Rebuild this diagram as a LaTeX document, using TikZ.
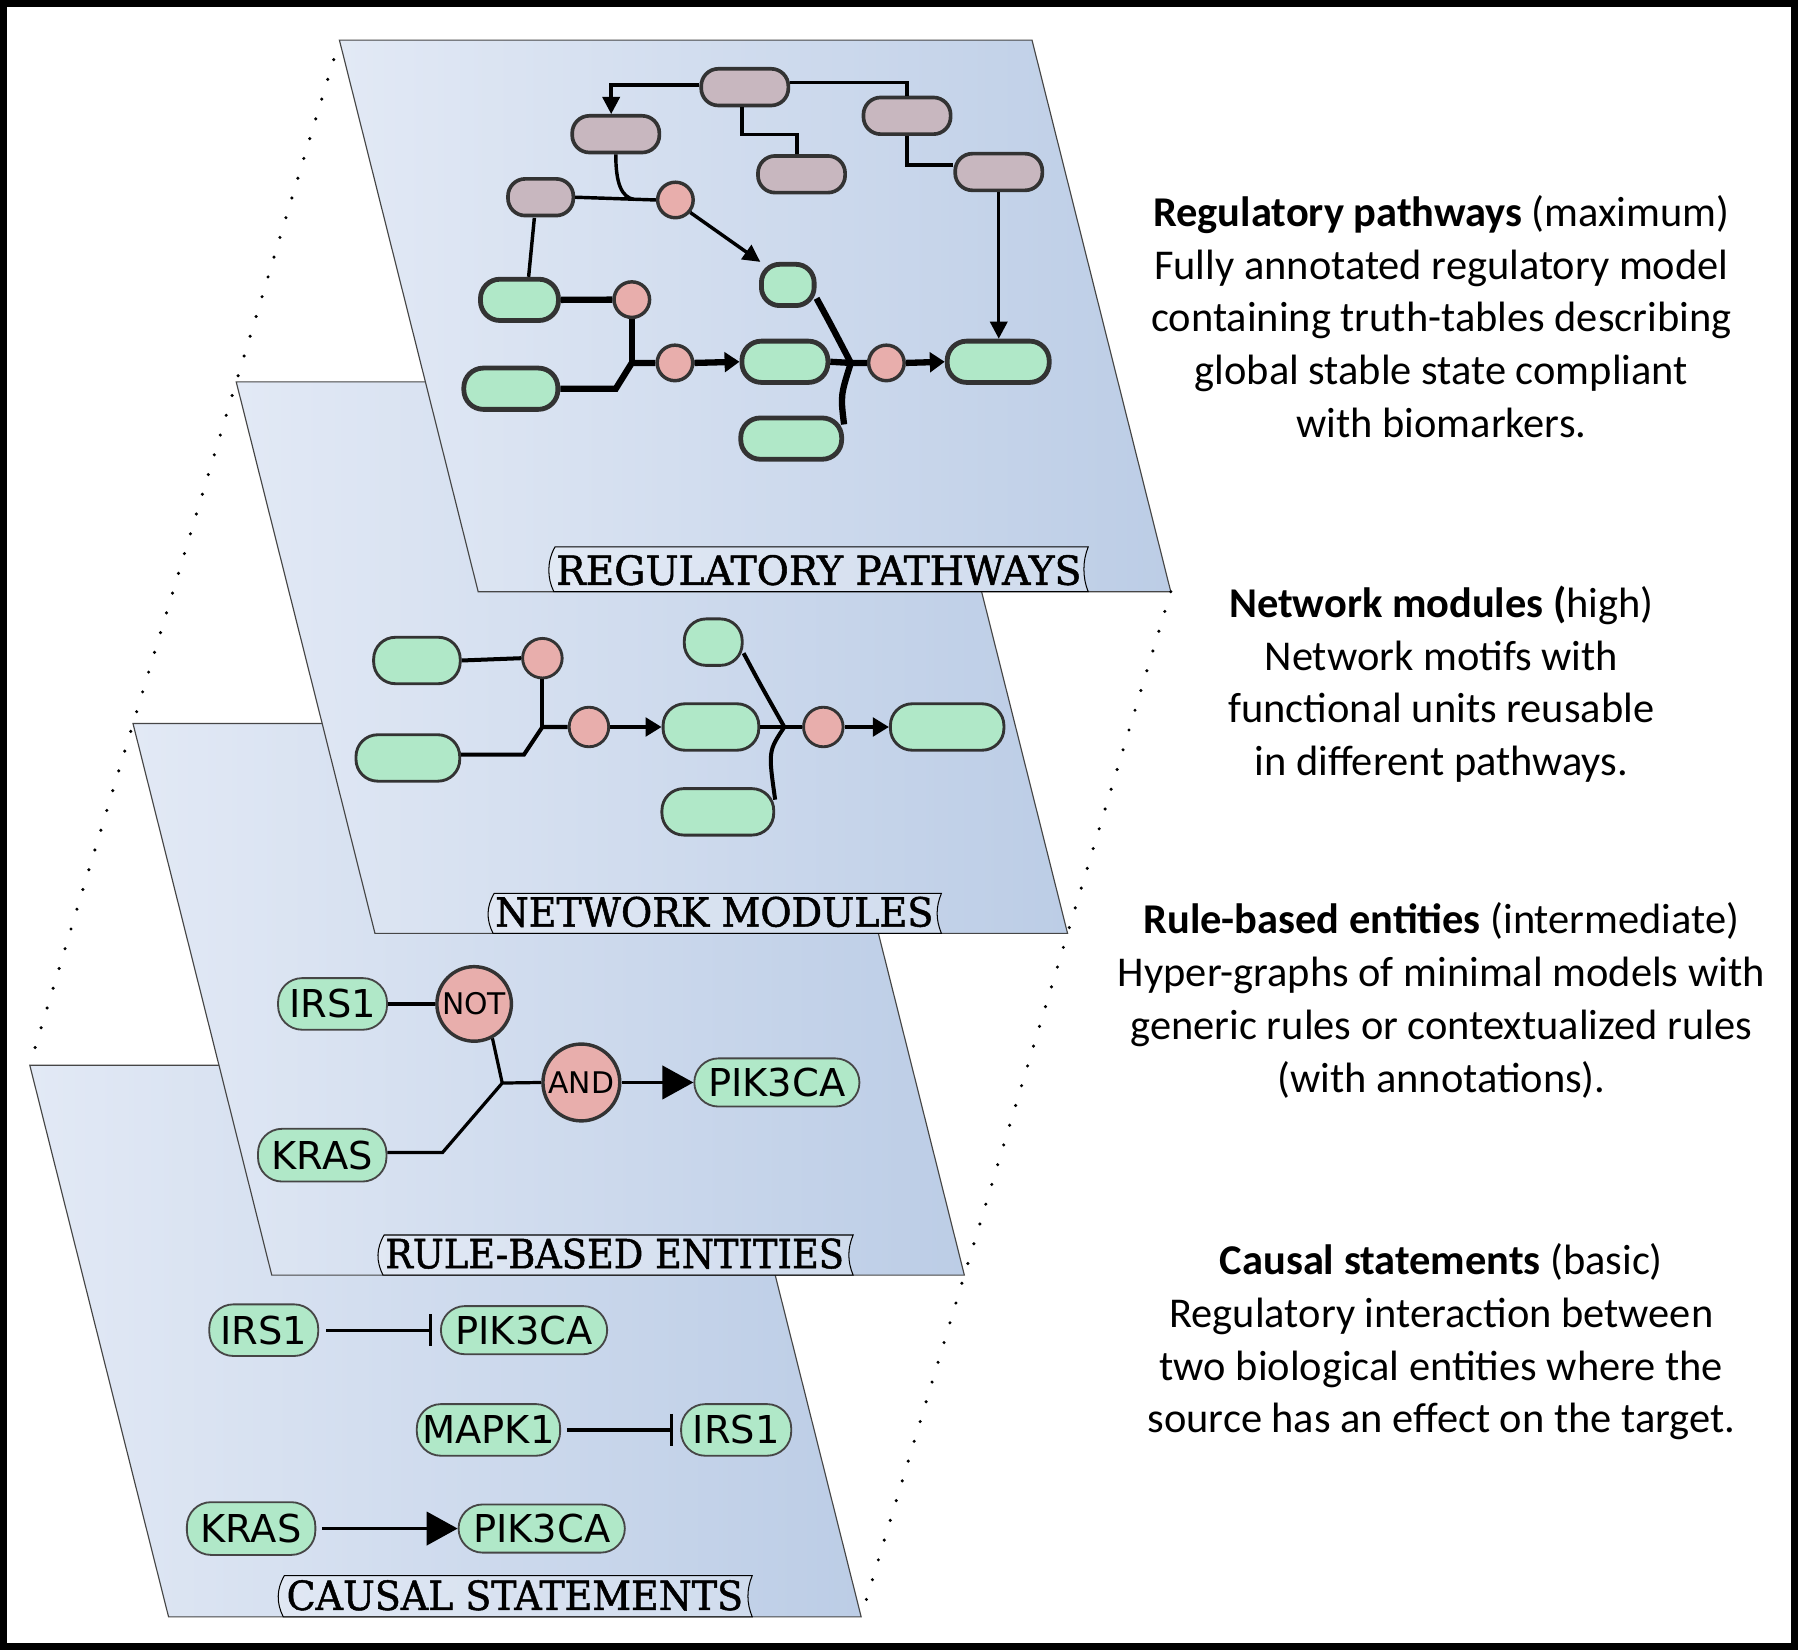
\documentclass[tikz,border=0pt]{standalone}
\usepackage{fontspec}
\setmainfont{Carlito}
\newfontfamily\slabfont[FakeBold=1.2]{DejaVu Serif Condensed}
\newfontfamily\genefont{DejaVu Sans}
\usetikzlibrary{arrows.meta,calc}
\definecolor{layL}{RGB}{226,233,245}
\definecolor{layR}{RGB}{188,205,230}
\definecolor{mauve}{RGB}{200,183,191}
\definecolor{pinkc}{RGB}{232,174,172}
\definecolor{greenc}{RGB}{176,232,200}
\definecolor{nodeline}{RGB}{51,51,51}
\definecolor{edgegray}{RGB}{70,70,70}
\newcommand{\layerat}[2]{\path[layerst] (#1,#2) -- ++(604,0) -- ++(121,481) -- ++(-604,0) -- cycle;}
\newcommand{\labtab}[8]{%
  \draw[tabst] ({#2+5},#4) -- (#3,#4) .. controls ({#3-5},{#4+12}) and ({#3-5},{#5-12}) .. (#3,#5)
     -- ({#2+4},#5) .. controls ({#2-2},{#5-12}) and ({#2-2},{#4+12}) .. ({#2+5},#4) -- cycle;
  \node[anchor=base,inner sep=0pt] (#1) at (#6,{#5-6}) {\resizebox{#7pt}{26pt}{\slabfont #8}};}
\begin{document}
\begin{tikzpicture}[x=1pt,y=-1pt,
  layerst/.style={draw=edgegray,line width=1pt,left color=layL,right color=layR},
  tabst/.style={draw=black,line width=0.9pt,fill=white,fill opacity=0.25},
  mv/.style={draw=nodeline,fill=mauve,line width=3.2pt,rounded corners=15pt,minimum width=76pt,minimum height=32pt,inner sep=0pt},
  gA/.style={draw=nodeline,fill=greenc,line width=4.2pt,rounded corners=17pt,minimum height=36pt,inner sep=0pt},
  pA/.style={draw=nodeline,fill=pinkc,line width=3pt,circle,minimum size=31pt,inner sep=0pt},
  gB/.style={draw=nodeline,fill=greenc,line width=2.5pt,rounded corners=19pt,minimum height=40.5pt,inner sep=0pt},
  pB/.style={draw=nodeline,fill=pinkc,line width=2.5pt,circle,minimum size=34.5pt,inner sep=0pt},
  gene/.style={draw=edgegray,fill=greenc,line width=1.6pt,rounded corners=21pt,minimum height=45pt,inner sep=0pt,
     font=\genefont\fontsize{33.5}{38}\selectfont},
  logic/.style={draw=nodeline,fill=pinkc,line width=3pt,circle,inner sep=0pt,
     font=\genefont\fontsize{26}{30}\selectfont},
  eA/.style={line width=3pt},
  eAt/.style={line width=5.5pt},
  eB/.style={line width=3.5pt},
  eC/.style={line width=2.8pt},
  aA/.style={-{Triangle[length=15pt,width=15pt]}},
  aAt/.style={-{Triangle[length=13pt,width=17pt]}},
  aB/.style={-{Triangle[length=14pt,width=16pt]}},
  aC/.style={-{Triangle[length=27pt,width=29pt]}},
  inh/.style={-{Bar[width=28pt,line width=2.8pt]}},
  desc/.style={anchor=base,inner sep=0pt,font=\fontsize{37}{44}\selectfont},
  dotline/.style={line width=3pt,line cap=round,dash pattern=on 0pt off 18pt}]
\useasboundingbox (0,0) rectangle (1568,1439);
\fill[white] (0,0) rectangle (1568,1439);

% ---------------- layer 4: causal statements
\layerat{26}{929}
\labtab{lab4}{243}{656}{1374}{1410}{449}{398}{CAUSAL STATEMENTS}
\node[gene,minimum width=95pt] (irsA) at (230,1160) {IRS1};
\node[gene,minimum width=145pt,minimum height=42pt] (pikA) at (457,1160) {PIK3CA};
\node[gene,minimum width=125pt] (mapk) at (426,1247) {MAPK1};
\node[gene,minimum width=96pt] (irsB) at (642,1247) {IRS1};
\node[gene,minimum width=112pt,minimum height=46pt] (krasA) at (219,1333) {KRAS};
\node[gene,minimum width=145pt,minimum height=42pt] (pikB) at (472.4,1333) {PIK3CA};
\draw[eC,inh,shorten <=6pt,shorten >=7pt] (irsA.east) -- (pikA.west);
\draw[eC,inh,shorten <=5pt,shorten >=6pt] (mapk.east) -- (irsB.west);
\draw[eC,aC,shorten <=5pt] (krasA.east) -- (pikB.west);

% ---------------- layer 3: rule-based entities
\layerat{116}{631}
\labtab{lab3}{330}{744}{1077}{1112}{536}{400}{RULE-BASED ENTITIES}
\node[gene,minimum width=95pt] (irsC) at (290,875.5) {IRS1};
\node[logic,minimum size=65pt] (notg) at (413.5,875.5) {NOT};
\node[logic,minimum size=67pt] (andg) at (507,944) {AND};
\node[gene,minimum width=144pt,minimum height=42pt] (pikC) at (677.5,944) {PIK3CA};
\node[gene,minimum width=112pt,minimum height=46pt] (krasC) at (281,1007.4) {KRAS};
\coordinate (jC) at (438,944.5);
\coordinate (kC) at (386,1005);
\draw[eC] (irsC.east) -- (notg.west);
\draw[eC] (notg.-62) -- (jC);
\draw[eC] (krasC.east |- kC) -- (kC) -- (jC) -- (andg.west);
\draw[eC,aC] (andg.east) -- (pikC.west);

% ---------------- layer 2: network modules
\layerat{206}{333}
\labtab{lab2}{426}{821}{779}{814}{623}{382}{NETWORK MODULES}
\node[gB,minimum width=75.5pt] (n1) at (363.6,576) {};
\node[gB,minimum width=90.5pt] (n2) at (355.7,661) {};
\node[gB,minimum width=50.5pt] (n3) at (622,560) {};
\node[gB,minimum width=83.5pt] (n4) at (620,634) {};
\node[gB,minimum width=99pt] (n5) at (826,634) {};
\node[gB,minimum width=97.5pt] (n6) at (626,708) {};
\node[pB] (q1) at (473,574) {};
\node[pB] (q2) at (513.6,634) {};
\node[pB] (q3) at (718,634) {};
\coordinate (jB) at (473,634);
\coordinate (kB) at (457,658);
\coordinate (jB2) at (684,634);
\draw[eB] (n1.east) -- (q1.west);
\draw[eB] (q1.south) -- (jB);
\draw[eB] (n2.east |- kB) -- (kB) -- (jB) -- (q2.west);
\draw[eB,aB] (q2.east) -- (n4.west);
\draw[eB] (n3.-20) .. controls (662,595) .. (jB2);
\draw[eB] (n6.12) .. controls (670,655) .. (jB2);
\draw[eB] (n4.east) -- (jB2) -- (q3.west);
\draw[eB,aB] (q3.east) -- (n5.west);

% ---------------- layer 1: regulatory pathways
\layerat{296}{35}
\labtab{lab1}{479}{949}{477}{516}{714}{458}{REGULATORY PATHWAYS}
\node[mv] (m1) at (649.5,76) {};
\node[mv] (m2) at (537,117) {};
\node[mv] (m3) at (791,101) {};
\node[mv] (m4) at (699,152) {};
\node[mv] (m5) at (871,150) {};
\node[mv,minimum width=57pt] (m6) at (471.5,172) {};
\node[pA] (p1) at (589,174.4) {};
\node[pA] (p2) at (551,261.3) {};
\node[pA] (p3) at (588.6,316.5) {};
\node[pA] (p4) at (773,316.5) {};
\node[gA,minimum width=46pt,rounded corners=16pt] (g1) at (687,248.5) {};
\node[gA,minimum width=68pt] (g2) at (453,261.5) {};
\node[gA,minimum width=82pt] (g3) at (445.5,339) {};
\node[gA,minimum width=75pt] (g4) at (684.5,315.5) {};
\node[gA,minimum width=89pt] (g5) at (870.5,315.5) {};
\node[gA,minimum width=88pt] (g6) at (690,382.5) {};
\coordinate (jA0) at (553,174);
\coordinate (jA1) at (551,316.5);
\coordinate (kA1) at (537,339);
\coordinate (jA2) at (742,316.5);
\draw[eA,aA] (m1.west |- 0,74) -| (533,99.5) coordinate (m2top);
\draw[eA] (647,93.5) |- (695,117.5) -- (m4.north -| 695,0);
\draw[eA] (m1.east |- 0,72) -| (m3.north);
\draw[eA] (m3.south) |- (m5.west |- 0,144);
\draw[eA,aA] (m5.south) -- (m5.south |- g5.north);
\draw[eA] (m6.east) -- (p1.west);
\draw[eA] (m2.south) .. controls (537,160) and (542,172) .. (jA0);
\draw[eA] (466,190) -- (g2.north -| 461,0);
\draw[eA,aA] (p1.-40) -- (g1.140);
\draw[eAt] (g2.east) -- (p2.west);
\draw[eAt] (p2.south) -- (jA1);
\draw[eAt] (g3.east |- kA1) -- (kA1) -- (jA1) -- (p3.west);
\draw[eAt,aAt] (p3.east) -- (g4.west);
\draw[eAt] (g1.-25) .. controls (724,282) .. (jA2);
\draw[eAt] (g6.15) .. controls (733,345) .. (jA2);
\draw[eAt] (g4.east) -- (jA2) -- (p4.west);
\draw[eAt,aAt] (p4.east) -- (g5.west);

% ---------------- dotted guides
\draw[dotline] (291,52) -- (26,929);
\draw[dotline] (1021,516) -- (751,1410);

% ---------------- descriptions
\node[desc] (d1a) at (1257,197.5) {\textbf{Regulatory pathways} (maximum)};
\node[desc] (d1b) at (1257,243.5) {Fully annotated regulatory model};
\node[desc] (d1c) at (1257,289.5) {containing truth-tables describing};
\node[desc] (d1d) at (1257,335.5) {global stable state compliant};
\node[desc] (d1e) at (1257,381.5) {with biomarkers.};
\node[desc] (d2a) at (1257,538.5) {\textbf{Network modules (}high)};
\node[desc] (d2b) at (1257,584.5) {Network motifs with};
\node[desc] (d2c) at (1257,630.5) {functional units reusable};
\node[desc] (d2d) at (1257,676.5) {in different pathways.};
\node[desc] (d3a) at (1257,814.5) {\textbf{Rule-based entities} (intermediate)};
\node[desc] (d3b) at (1257,860.5) {Hyper-graphs of minimal models with};
\node[desc] (d3c) at (1257,906.5) {generic rules or contextualized rules};
\node[desc] (d3d) at (1257,952.5) {(with annotations).};
\node[desc] (d4a) at (1257,1111.5) {\textbf{Causal statements} (basic)};
\node[desc] (d4b) at (1257,1157.5) {Regulatory interaction between};
\node[desc] (d4c) at (1257,1203.5) {two biological entities where the};
\node[desc] (d4d) at (1257,1249.5) {source has an effect on the target.};

% ---------------- frame
\draw[line width=6.5pt] (3.25,3.25) rectangle (1564.75,1435.75);
\end{tikzpicture}
\end{document}
